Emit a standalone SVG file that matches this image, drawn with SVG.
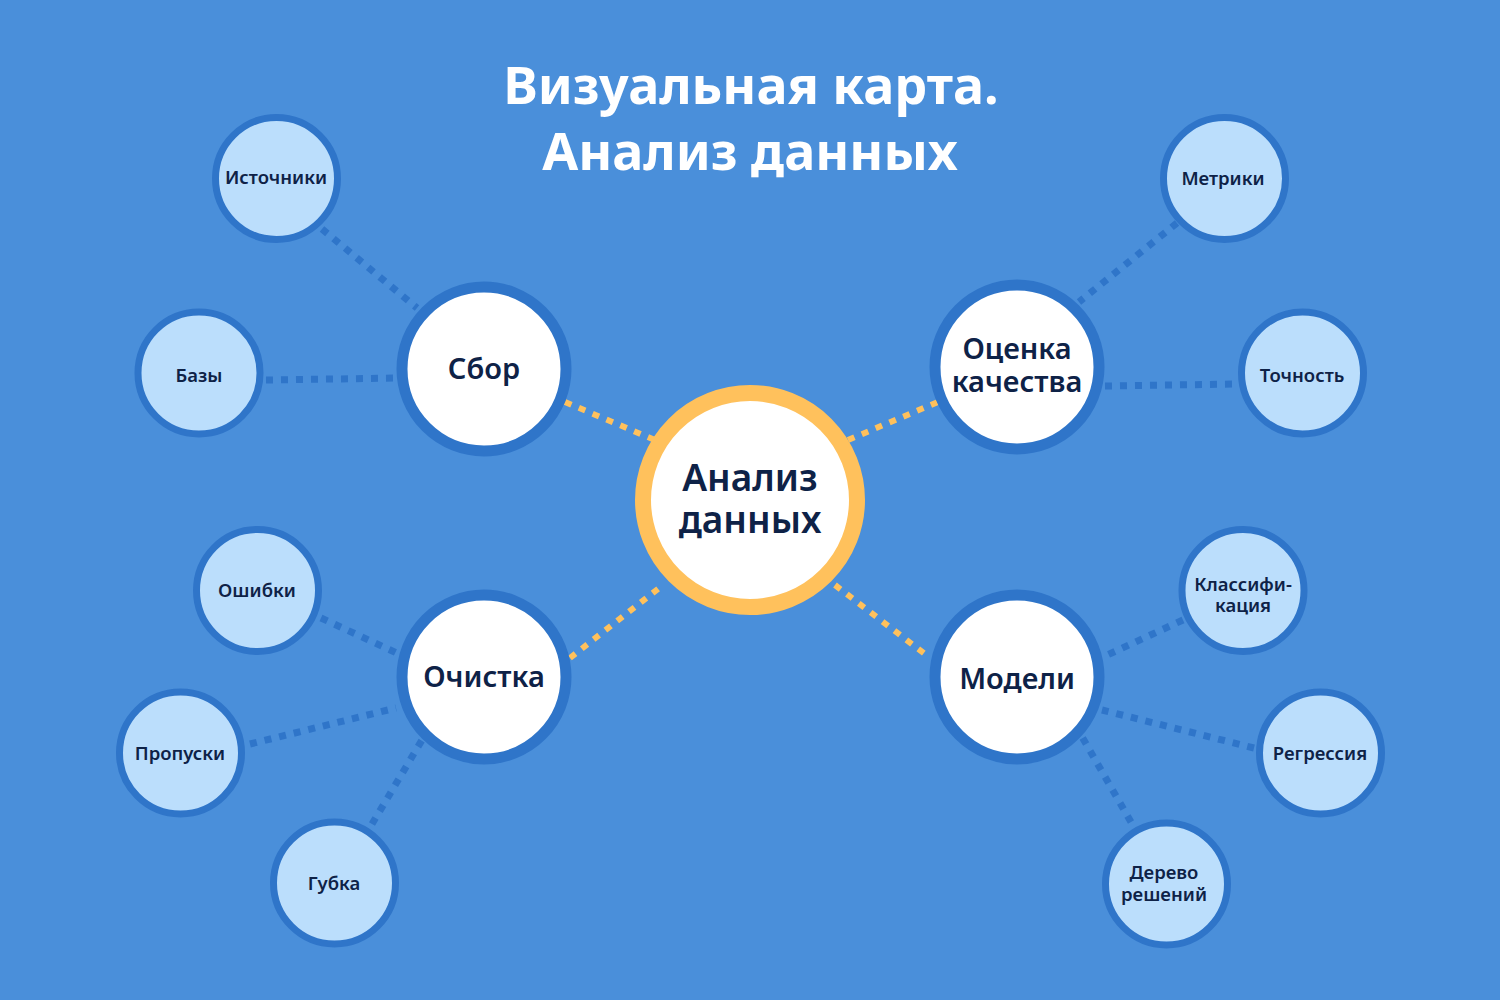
<svg xmlns="http://www.w3.org/2000/svg" width="1500" height="1000" viewBox="0 0 1500 1000">
<style>
.bg{fill:#4A8FDA}
.title{font-family:"Noto Sans","Open Sans","Liberation Sans",sans-serif;font-weight:700;font-size:52px;fill:#FFFFFF;text-anchor:middle}
.t{font-family:"Noto Sans","Open Sans","Liberation Sans",sans-serif;font-weight:600;fill:#0E2247;text-anchor:middle}
.tc{font-size:37px}
.tb{font-size:29px}
.tl{font-size:18.5px}
.center{fill:#FFFFFF;stroke:#FFC15C;stroke-width:16}
.branch{fill:#FFFFFF;stroke:#2F75C9;stroke-width:11}
.leaf{fill:#BBDEFC;stroke:#2F75C9;stroke-width:7}
.cy{stroke:#FFC15C;stroke-width:6;stroke-dasharray:7 8;fill:none}
.cb{stroke:#2F75C9;stroke-width:7;stroke-dasharray:7 8;fill:none}
</style>
<rect class="bg" x="0" y="0" width="1500" height="1000"/>
<g id="title">
<text class="title" x="751" y="104">Визуальная карта.</text>
<text class="title" x="750" y="170">Анализ данных</text>
</g>
<g id="connectors">
<line class="cy" x1="565" y1="402" x2="655" y2="440"/>
<line class="cy" x1="848" y1="440" x2="938" y2="402"/>
<line class="cy" x1="570" y1="658" x2="663" y2="585"/>
<line class="cy" x1="835" y1="585" x2="930" y2="658"/>
<line class="cb" x1="322" y1="229" x2="417" y2="308"/>
<line class="cb" x1="266" y1="380" x2="400" y2="378"/>
<line class="cb" x1="1177" y1="223" x2="1079" y2="302"/>
<line class="cb" x1="1105" y1="386" x2="1238" y2="384"/>
<line class="cb" x1="321" y1="618" x2="401" y2="655"/>
<line class="cb" x1="250" y1="744" x2="396" y2="708"/>
<line class="cb" x1="372" y1="824" x2="422" y2="740"/>
<line class="cb" x1="1183" y1="620" x2="1103" y2="657"/>
<line class="cb" x1="1254" y1="748" x2="1102" y2="710"/>
<line class="cb" x1="1131" y1="822" x2="1081" y2="735"/>
</g>
<g id="center">
<circle class="center" cx="750" cy="500" r="107"/>
<text class="t tc" x="750" y="491">Анализ</text>
<text class="t tc" x="750" y="533">данных</text>
</g>
<g id="sbor">
<circle class="branch" cx="484" cy="369" r="82"/>
<text class="t tb" x="484" y="379">Сбор</text>
</g>
<g id="ocenka">
<circle class="branch" cx="1017" cy="367" r="82"/>
<text class="t tb" x="1017" y="359">Оценка</text>
<text class="t tb" x="1017" y="392">качества</text>
</g>
<g id="ochistka">
<circle class="branch" cx="484" cy="677" r="82"/>
<text class="t tb" x="484" y="687">Очистка</text>
</g>
<g id="modeli">
<circle class="branch" cx="1017" cy="677" r="82"/>
<text class="t tb" x="1017" y="689">Модели</text>
</g>
<g id="istochniki">
<circle class="leaf" cx="276.5" cy="178.5" r="61"/>
<text class="t tl" x="276" y="184">Источники</text>
</g>
<g id="bazy">
<circle class="leaf" cx="199" cy="373" r="61"/>
<text class="t tl" x="199" y="382">Базы</text>
</g>
<g id="metriki">
<circle class="leaf" cx="1224.5" cy="178.5" r="61"/>
<text class="t tl" x="1223" y="185">Метрики</text>
</g>
<g id="tochnost">
<circle class="leaf" cx="1302.5" cy="373" r="61"/>
<text class="t tl" x="1302" y="382">Точность</text>
</g>
<g id="oshibki">
<circle class="leaf" cx="257.5" cy="590.5" r="61"/>
<text class="t tl" x="257" y="597">Ошибки</text>
</g>
<g id="propuski">
<circle class="leaf" cx="180.5" cy="753" r="61"/>
<text class="t tl" x="180" y="760">Пропуски</text>
</g>
<g id="gubka">
<circle class="leaf" cx="334.5" cy="883" r="61"/>
<text class="t tl" x="334" y="890">Губка</text>
</g>
<g id="klassifikaciya">
<circle class="leaf" cx="1243" cy="590.5" r="61"/>
<text class="t tl" x="1243" y="591">Классифи-</text>
<text class="t tl" x="1243" y="612">кация</text>
</g>
<g id="regressiya">
<circle class="leaf" cx="1320.5" cy="753" r="61"/>
<text class="t tl" x="1320" y="760">Регрессия</text>
</g>
<g id="derevo">
<circle class="leaf" cx="1166.5" cy="884" r="61"/>
<text class="t tl" x="1164" y="879">Дерево</text>
<text class="t tl" x="1164" y="901">решений</text>
</g>
</svg>
